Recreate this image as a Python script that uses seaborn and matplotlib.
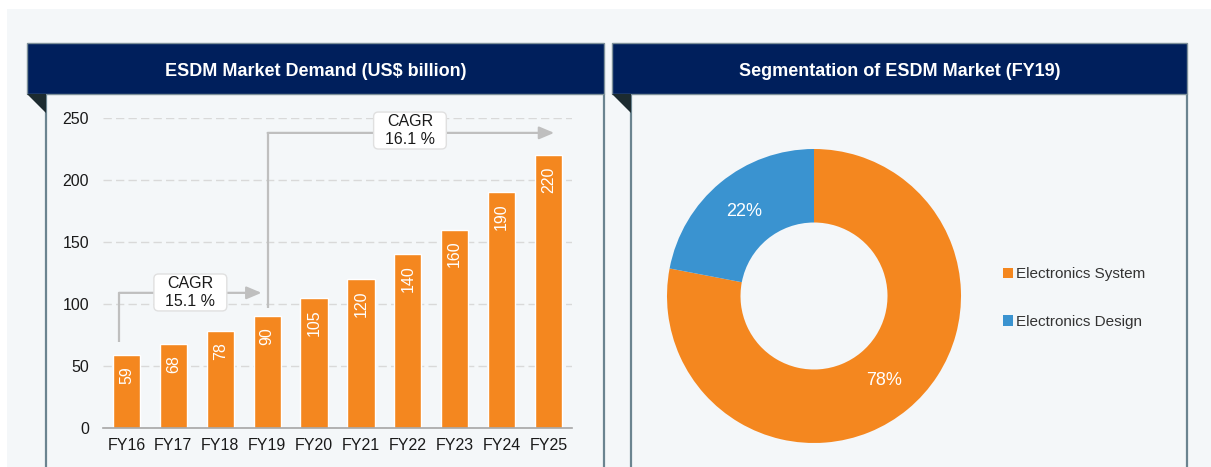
import matplotlib
matplotlib.use("Agg")
import matplotlib.pyplot as plt
import seaborn as sns
import pandas as pd
from matplotlib.patches import Rectangle, Polygon, Patch, FancyBboxPatch

# data
years = ['FY16', 'FY17', 'FY18', 'FY19', 'FY20', 'FY21', 'FY22', 'FY23', 'FY24', 'FY25']
demand = [59, 68, 78, 90, 105, 120, 140, 160, 190, 220]
segments = ['Electronics System', 'Electronics Design']
shares = [78, 22]
cagr_labels = ['CAGR\n15.1 %', 'CAGR\n16.1 %']

orange = '#F4871F'
blue = '#3A93D0'
navy = '#001F5C'
panel_bg = '#F4F7F9'
border = '#6B8490'

sns.set_style('white')
plt.rcParams['font.family'] = ['Liberation Sans', 'DejaVu Sans']

W, H = 1211, 467
fig = plt.figure(figsize=(W / 100, H / 100), dpi=100)
fig.patch.set_facecolor('white')


def fx(px):
    return px / W


def fy(py):
    return 1 - py / H


def rect(x0, y0, x1, y1):
    return [fx(x0), fy(y1), (x1 - x0) / W, (y1 - y0) / H]


# background and panel frames (kept behind the axes)
fig.patches.append(Rectangle((fx(7), 0), 1, fy(9), transform=fig.transFigure,
                             fc=panel_bg, ec='none', zorder=-3))
for x0, x1, title in [(27, 604, 'ESDM Market Demand (US$ billion)'),
                      (612, 1187, 'Segmentation of ESDM Market (FY19)')]:
    fig.patches.append(Rectangle((fx(x0), fy(94)), (x1 - x0) / W, 51 / H,
                                 transform=fig.transFigure, fc=navy, ec='#7D909A',
                                 lw=1, zorder=-2))
    fig.text(fx((x0 + x1) / 2), fy(71), title, color='white', fontsize=13,
             fontweight='bold', ha='center', va='center')
    fig.patches.append(Polygon([(fx(x0), fy(94)), (fx(x0 + 19), fy(94)), (fx(x0 + 19), fy(113))],
                               closed=True, transform=fig.transFigure, fc='#1C2B30',
                               ec='none', zorder=-2))
    for bx in (x0 + 19, x1):
        fig.lines.append(plt.Line2D([fx(bx), fx(bx)], [0, fy(94)], transform=fig.transFigure,
                                    color=border, lw=1.6, zorder=-2))

# bar chart
ax = fig.add_axes(rect(103, 118, 572, 428))
ax.patch.set_alpha(0)
df = pd.DataFrame({'year': years, 'demand': demand})
sns.barplot(data=df, x='year', y='demand', color=orange, saturation=1, width=0.58, ax=ax)
ax.set_xlim(-0.5, len(years) - 0.5)
ax.set_ylim(0, 250)
ax.set_yticks([0, 50, 100, 150, 200, 250])
ax.set_xlabel('')
ax.set_ylabel('')
for s in ['top', 'right', 'left']:
    ax.spines[s].set_visible(False)
ax.spines['bottom'].set_color('#A6A6A6')
ax.spines['bottom'].set_linewidth(1.2)
ax.set_axisbelow(True)
ax.yaxis.grid(True, color='#D9D9D9', ls=(0, (6, 3)), lw=1)
ax.tick_params(axis='y', length=0, pad=10, labelsize=11.5, labelcolor='#1A1A1A')
ax.tick_params(axis='x', which='major', length=0, pad=7, labelsize=11.5, labelcolor='#1A1A1A')
ax.set_xticks([i - 0.5 for i in range(len(years) + 1)], minor=True)
ax.tick_params(axis='x', which='minor', length=5, color='#A6A6A6', width=1)

for i, v in enumerate(demand):
    ax.annotate(str(v), (i, v), xytext=(0, -8), textcoords='offset points',
                rotation=90, ha='center', va='top', color='white', fontsize=11.5)

# CAGR arrows: (vertical x, y start, y top, arrow end x, box x0, box x1, box y0, box y1)
arrow_paths = [(-0.16, 69, 109, 2.88, 0.585, 2.14, 94.4, 124.2),
               (3.01, 97, 238, 9.12, 5.27, 6.82, 225, 254.8)]
px_per_x = 47
px_per_y = 1.24
for (xv, y0, y1, xend, bx0, bx1, by0, by1), lab in zip(arrow_paths, cagr_labels):
    ax.plot([xv, xv], [y0, y1], color='#BFBFBF', lw=1.6, solid_capstyle='butt', clip_on=False)
    ax.annotate('', xy=(xend, y1), xytext=(xv, y1), annotation_clip=False,
                arrowprops=dict(arrowstyle='-|>,head_length=0.9,head_width=0.38',
                                color='#BFBFBF', lw=1.6, shrinkA=0, shrinkB=0))
    box = FancyBboxPatch((bx0, by0), bx1 - bx0, by1 - by0,
                         boxstyle='round,pad=0,rounding_size=0.1',
                         mutation_aspect=px_per_x / px_per_y,
                         fc='white', ec='#E0E0E0', lw=1, clip_on=False, zorder=3)
    ax.add_patch(box)
    ax.text((bx0 + bx1) / 2, (by0 + by1) / 2, lab, ha='center', va='center',
            fontsize=11.5, color='#1A1A1A', linespacing=1.25, zorder=4)

# donut
ax2 = fig.add_axes(rect(667, 149, 961, 443))
wedges, texts, autotexts = ax2.pie(shares, colors=[orange, blue], startangle=90,
                                   counterclock=False, autopct='%d%%', pctdistance=0.75,
                                   wedgeprops=dict(width=0.5, edgecolor='none'),
                                   textprops=dict(color='white', fontsize=13))
ax2.set_xlim(-1, 1)
ax2.set_ylim(-1, 1)
ax2.set_aspect('equal')

handles = [Patch(fc=orange, ec='none'), Patch(fc=blue, ec='none')]
fig.legend(handles, segments, loc='center left', bbox_to_anchor=(fx(989), fy(298)),
           frameon=False, fontsize=11, labelcolor='#333333', handlelength=0.65,
           handleheight=0.65, handletextpad=0.25, labelspacing=2.2)

fig.savefig('out.png', dpi=100, facecolor=fig.get_facecolor())
